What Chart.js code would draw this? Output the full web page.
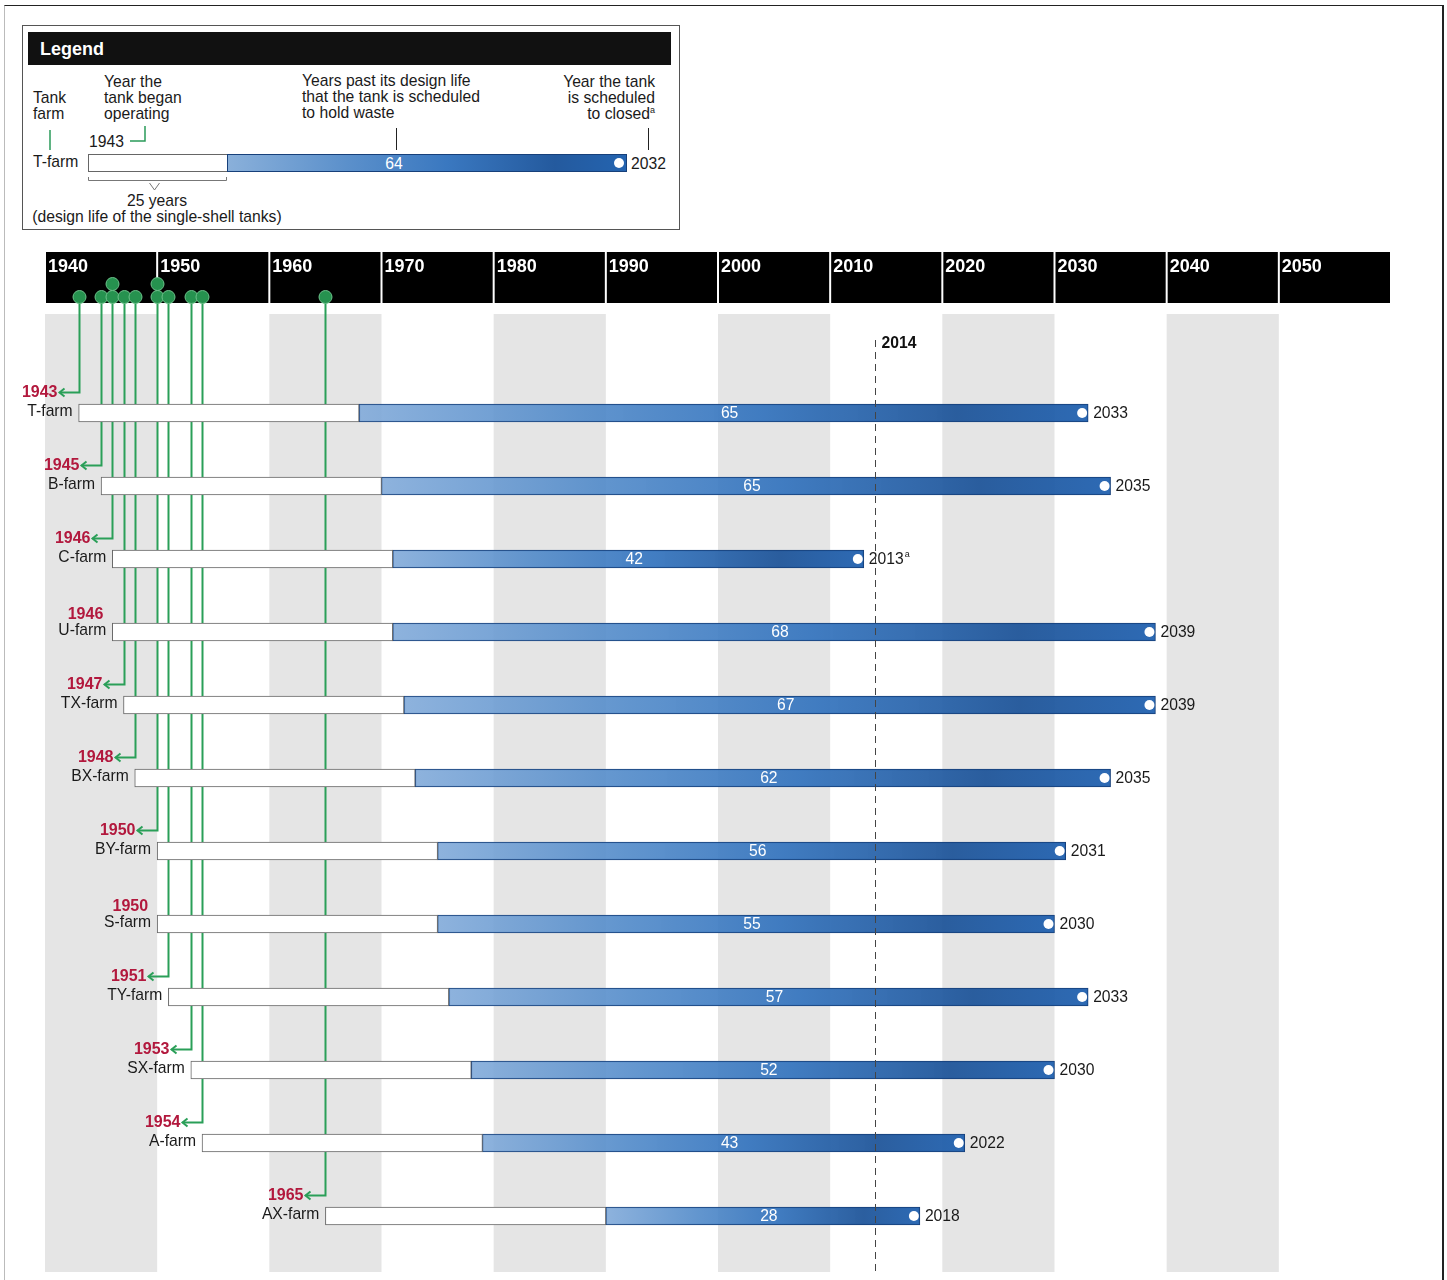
<!DOCTYPE html>
<html>
<head>
<meta charset="utf-8">
<script src="https://cdn.jsdelivr.net/npm/chart.js@4.4.1/dist/chart.umd.min.js"></script>
<style>
  html, body { margin: 0; padding: 0; background: #fff; overflow: hidden; }
  #page { position: relative; width: 1447px; height: 1280px; }
  #frame { position: absolute; left: 4px; top: 5px; width: 1437px; height: 1300px;
    border-top: 1px solid #222; border-left: 1px solid #bbb; border-right: 2px solid #222; }
  #chart { position: absolute; left: 0; top: 0; }
  #key { position: absolute; left: 0; top: 0; }
  #key text { font-family: "Liberation Sans", Arial, sans-serif; font-size: 15.7px; fill: #1a1a1a; }
</style>
</head>
<body>
<div id="page">
  <div id="frame"></div>
  <canvas id="chart" width="1447" height="1280"></canvas>
  <svg id="key" width="700" height="240">
    <defs>
      <linearGradient id="blueGrad" x1="0" x2="1" y1="0" y2="0">
        <stop offset="0" stop-color="#8ab0da"/>
        <stop offset="0.3" stop-color="#5b90cb"/>
        <stop offset="0.55" stop-color="#3a78c0"/>
        <stop offset="0.82" stop-color="#245a9e"/>
        <stop offset="1" stop-color="#2464b0"/>
      </linearGradient>
    </defs>
    <rect x="22.5" y="25.5" width="657" height="204" fill="#fff" stroke="#555"/>
    <rect x="28" y="32" width="643" height="33" fill="#111"/>
    <text x="40" y="54.5" style="font-size:18px;font-weight:bold;fill:#fff">Legend</text>
    <text x="33" y="102.5">Tank</text>
    <text x="33" y="118.5">farm</text>
    <text x="104" y="86.5">Year the</text>
    <text x="104" y="102.5">tank began</text>
    <text x="104" y="118.5">operating</text>
    <text x="302" y="85.5">Years past its design life</text>
    <text x="302" y="101.5">that the tank is scheduled</text>
    <text x="302" y="117.5">to hold waste</text>
    <text x="655" y="86.5" text-anchor="end">Year the tank</text>
    <text x="655" y="102.5" text-anchor="end">is scheduled</text>
    <text x="655" y="118.5" text-anchor="end">to closed<tspan dy="-6" style="font-size:9px">a</tspan></text>
    <line x1="50" y1="130" x2="50" y2="150" stroke="#2a9a5a" stroke-width="1.5"/>
    <text x="89" y="146.5">1943</text>
    <polyline points="130,141 145,141 145,126" fill="none" stroke="#2a9a5a" stroke-width="1.5"/>
    <line x1="396.5" y1="128" x2="396.5" y2="150" stroke="#222"/>
    <line x1="648.5" y1="128" x2="648.5" y2="150" stroke="#222"/>
    <text x="33" y="166.5">T-farm</text>
    <rect x="88.5" y="154.5" width="139" height="17" fill="#fff" stroke="#666"/>
    <rect x="227.5" y="154.5" width="399" height="17" fill="url(#blueGrad)" stroke="#17407a"/>
    <circle cx="619" cy="163" r="5" fill="#fff"/>
    <text x="394" y="168.5" text-anchor="middle" style="fill:#fff">64</text>
    <text x="631" y="168.5">2032</text>
    <path d="M88.5,177 V180.5 H226.5 V177" fill="none" stroke="#777"/>
    <path d="M149.5,183 L154.5,190 L159.5,183" fill="none" stroke="#777"/>
    <text x="157" y="205.5" text-anchor="middle">25 years</text>
    <text x="157" y="221.5" text-anchor="middle">(design life of the single-shell tanks)</text>
  </svg>
</div>
<script>
// tank farms, top to bottom
const farms = ["T-farm", "B-farm", "C-farm", "U-farm", "TX-farm", "BX-farm", "BY-farm", "S-farm", "TY-farm", "SX-farm", "A-farm", "AX-farm"]
const startYears = [1943, 1945, 1946, 1946, 1947, 1948, 1950, 1950, 1951, 1953, 1954, 1965]
const closeYears = [2033, 2035, 2013, 2039, 2039, 2035, 2031, 2030, 2033, 2030, 2022, 2018]
const closeNotes = ["", "", "a", "", "", "", "", "", "", "", "", ""]
const pastLabels = [65, 65, 42, 68, 67, 62, 56, 55, 57, 52, 43, 28]
const designLife = 25
const decades = [1940, 1950, 1960, 1970, 1980, 1990, 2000, 2010, 2020, 2030, 2040, 2050]
const todayYear = 2014

const FONT = '"Liberation Sans", Arial, sans-serif'
const GREEN = "#2a9f58"
const RED = "#b2183d"

// pixel layout of the decorations around the plot
const L = { headTop: 252, headBottom: 303, bandTop: 314, bandBottom: 1272, dotY: 297, dotStackY: 284, todayTop: 340 }

const designBars = farms.map((f, i) => [startYears[i], startYears[i] + designLife])
const pastBars = farms.map((f, i) => [startYears[i] + designLife, closeYears[i]])

function blueGradient(c) {
  const chart = c.chart
  if (!chart.chartArea || !c.raw) return "#2e6cb4"
  const x = chart.scales.x
  const x0 = x.getPixelForValue(c.raw[0])
  const x1 = x.getPixelForValue(c.raw[1])
  const g = chart.ctx.createLinearGradient(x0, 0, x1, 0)
  g.addColorStop(0, "rgba(132,172,218,0.92)")
  g.addColorStop(0.3, "rgba(84,140,202,0.92)")
  g.addColorStop(0.55, "rgba(52,116,190,0.93)")
  g.addColorStop(0.82, "rgba(32,86,154,0.95)")
  g.addColorStop(1, "rgba(34,98,176,0.95)")
  return g
}

// background: decade header, grey bands, green start-year leaders
const backdrop = {
  id: "backdrop",
  beforeDatasetsDraw(chart) {
    const ctx = chart.ctx
    const x = chart.scales.x
    const meta = chart.getDatasetMeta(0)
    ctx.save()

    ctx.fillStyle = "#e5e5e5"
    decades.forEach(function (d, i) {
      if (i % 2 !== 0) return
      const a = x.getPixelForValue(d)
      const b = x.getPixelForValue(d + 10)
      ctx.fillRect(a, L.bandTop, b - a, L.bandBottom - L.bandTop)
    })

    decades.forEach(function (d) {
      const a = x.getPixelForValue(d)
      const b = x.getPixelForValue(d + 10)
      ctx.fillStyle = "#000"
      ctx.fillRect(a + 1, L.headTop, b - a - 2, L.headBottom - L.headTop)
      ctx.fillStyle = "#fff"
      ctx.font = "bold 18px " + FONT
      ctx.textAlign = "left"
      ctx.textBaseline = "alphabetic"
      ctx.fillText(String(d), a + 3, 271.5)
    })

    const seen = {}
    const dots = []
    farms.forEach(function (f, i) {
      const yr = startYears[i]
      const lx = Math.round(x.getPixelForValue(yr)) + 0.5
      const by = meta.data[i].y
      const barStart = x.getPixelForValue(yr)
      ctx.font = "bold 16px " + FONT
      ctx.fillStyle = RED
      ctx.textAlign = "right"
      ctx.textBaseline = "middle"
      if (seen[yr]) {
        dots.push([lx, L.dotStackY])
        ctx.fillText(String(yr), barStart - 9, by - 17)
        return
      }
      seen[yr] = true
      dots.push([lx, L.dotY])
      const ay = Math.round(by - 21) + 0.5
      const tip = lx - 20
      ctx.strokeStyle = GREEN
      ctx.lineWidth = 2
      ctx.beginPath()
      ctx.moveTo(lx, L.dotY)
      ctx.lineTo(lx, ay)
      ctx.lineTo(tip, ay)
      ctx.stroke()
      ctx.beginPath()
      ctx.moveTo(tip + 5, ay - 4)
      ctx.lineTo(tip, ay)
      ctx.lineTo(tip + 5, ay + 4)
      ctx.stroke()
      ctx.fillText(String(yr), tip - 2, ay)
    })

    dots.forEach(function (p) {
      ctx.beginPath()
      ctx.arc(p[0], p[1], 6.5, 0, Math.PI * 2)
      ctx.fillStyle = "#26924f"
      ctx.fill()
      ctx.strokeStyle = "#6cc18a"
      ctx.lineWidth = 1
      ctx.stroke()
    })

    // farm names left of the bars
    ctx.font = "15.7px " + FONT
    ctx.fillStyle = "#1a1a1a"
    ctx.textAlign = "right"
    ctx.textBaseline = "middle"
    farms.forEach(function (f, i) {
      ctx.fillText(f, x.getPixelForValue(startYears[i]) - 6, meta.data[i].y - 1)
    })
    ctx.restore()
  },
}

// labels on the bars, closing dots, 2014 marker
const annotations = {
  id: "annotations",
  afterDatasetsDraw(chart) {
    const ctx = chart.ctx
    const x = chart.scales.x
    const meta = chart.getDatasetMeta(1)
    ctx.save()
    farms.forEach(function (f, i) {
      const el = meta.data[i]
      const x0 = x.getPixelForValue(pastBars[i][0])
      const x1 = x.getPixelForValue(pastBars[i][1])
      const y = el.y
      ctx.beginPath()
      ctx.arc(x1 - 6, y, 5, 0, Math.PI * 2)
      ctx.fillStyle = "#fff"
      ctx.fill()
      ctx.font = "15.7px " + FONT
      ctx.textBaseline = "middle"
      ctx.textAlign = "center"
      ctx.fillText(String(pastLabels[i]), (x0 + x1) / 2 + 6, y + 1)
      ctx.textAlign = "left"
      ctx.fillStyle = "#1a1a1a"
      const txt = String(closeYears[i])
      ctx.fillText(txt, x1 + 5, y + 1)
      if (closeNotes[i]) {
        const w = ctx.measureText(txt).width
        ctx.font = "9px " + FONT
        ctx.fillText(closeNotes[i], x1 + 6 + w, y - 4)
      }
    })

    const tx = Math.round(x.getPixelForValue(todayYear)) + 0.5
    ctx.strokeStyle = "#444"
    ctx.lineWidth = 1
    ctx.setLineDash([7, 5])
    ctx.beginPath()
    ctx.moveTo(tx, L.todayTop)
    ctx.lineTo(tx, L.bandBottom)
    ctx.stroke()
    ctx.setLineDash([])
    ctx.font = "bold 15.7px " + FONT
    ctx.fillStyle = "#111"
    ctx.textAlign = "left"
    ctx.textBaseline = "middle"
    ctx.fillText(String(todayYear), tx + 6, L.todayTop + 4)
    ctx.restore()
  },
}

const canvasRef = document.getElementById("chart")
const myChart = new Chart(canvasRef, {
  type: "bar",
  data: {
    labels: farms,
    datasets: [
      {
        label: "Design life",
        data: designBars,
        backgroundColor: "#fff",
        borderColor: "#666",
        borderWidth: 1,
        borderSkipped: false,
        barThickness: 18,
        grouped: false,
      },
      {
        label: "Years past design life",
        data: pastBars,
        backgroundColor: blueGradient,
        borderColor: "#17407a",
        borderWidth: 1,
        borderSkipped: false,
        barThickness: 18,
        grouped: false,
      },
    ],
  },
  options: {
    indexAxis: "y",
    responsive: false,
    animation: false,
    layout: { padding: { left: 45, right: 56, top: 376.5, bottom: 27.5 } },
    scales: {
      x: { type: "linear", min: 1940, max: 2060, display: false },
      y: { type: "category", display: false },
    },
    plugins: { legend: { display: false }, tooltip: { enabled: false } },
  },
  plugins: [backdrop, annotations],
})
</script>
</body>
</html>
